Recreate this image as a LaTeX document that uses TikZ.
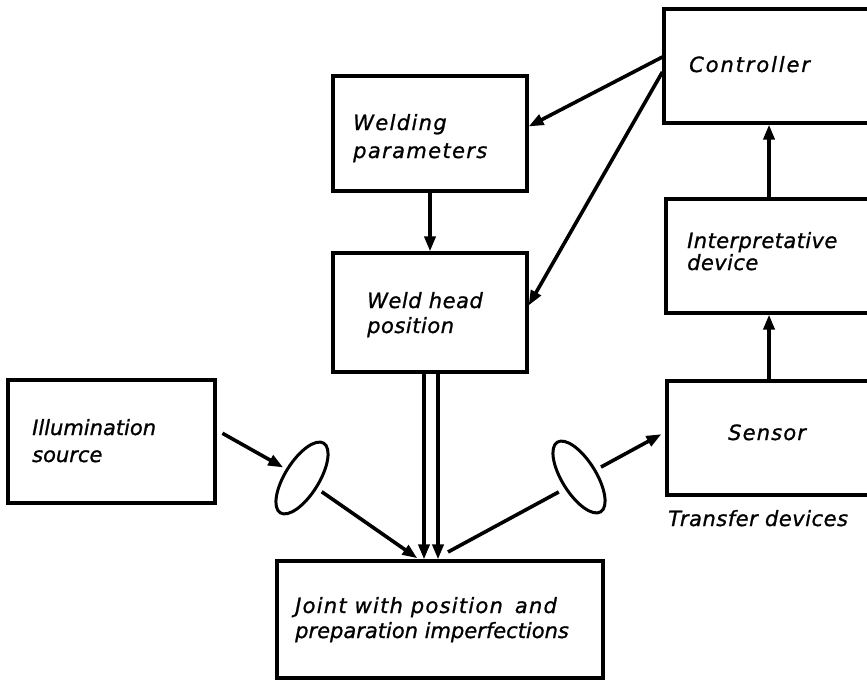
\documentclass[tikz,border=0pt]{standalone}
\usepackage{fontspec}
\setmainfont{DejaVu Sans}
\usetikzlibrary{arrows.meta,shapes.geometric,calc}
\newcommand{\lblf}[2]{\fontsize{21}{#1}\selectfont\itshape\addfontfeature{LetterSpace=#2,FakeBold=1}}
\begin{document}
\begin{tikzpicture}[x=1pt,y=-1pt,
  box/.style={draw, line width=3.2pt, rectangle, inner sep=0pt},
  lens/.style={draw, ellipse, line width=3pt, minimum width=82pt, minimum height=34pt, inner sep=0pt},
  arr/.style={line width=3.6pt, -{Triangle[length=15pt,width=11pt]}},
  ln/.style={line width=3.6pt},
  lbl/.style={anchor=base west, inner sep=0pt, align=left},
]
\clip (0,0) rectangle (867,682);
\fill[white] (0,0) rectangle (867,682);
% boxes
\node[box, minimum width=226pt, minimum height=114pt] (ctrl) at (777,66) {};
\node[box, minimum width=224pt, minimum height=114pt] (interp) at (778,256) {};
\node[box, minimum width=223pt, minimum height=114pt] (sensor) at (778.5,438) {};
\node[box, minimum width=194pt, minimum height=115pt] (wparam) at (430,133.5) {};
\node[box, minimum width=194pt, minimum height=119pt] (whead) at (430,312.5) {};
\node[box, minimum width=207pt, minimum height=123pt] (illum) at (111.5,441.5) {};
\node[box, minimum width=326pt, minimum height=117pt] (joint) at (440,619.5) {};
% lenses
\node[lens, rotate=58] (lens1) at (302,478) {};
\node[lens, rotate=-58] (lens2) at (579,477) {};
% labels (anchor = baseline of last line)
\node[lbl, font=\lblf{25}{9}] (tctrl) at (689,72) {Controller};
\node[lbl, font=\lblf{22}{2}] (tinterp) at (687,270) {Interpretative\\device};
\node[lbl, font=\lblf{25}{5.5}] (tsensor) at (728,440) {Sensor};
\node[lbl, font=\lblf{25}{2.5}] (ttrans) at (668,526) {Transfer devices};
\node[lbl, font=\lblf{28}{6.5}] (twparam) at (353,158) {Welding\\parameters};
\node[lbl, font=\lblf{25}{2.5}] (twhead) at (367,333) {Weld head\\position};
\node[lbl, font=\lblf{27}{0}] (tillum) at (32,462) {Illumination\\source};
\node[lbl, font=\lblf{25}{6}] (tjoint) at (295,638) {Joint with position\hspace{4pt} and\\{\addfontfeature{LetterSpace=0}preparation imperfections}};
% connectors
\draw[arr] ($(ctrl.west)+(0,-9)$) -- ($(wparam.east)+(0,-7)$);
\draw[arr] ($(ctrl.west)+(0,6)$) -- ($(whead.east)+(0,-7)$);
\draw[arr] ($(interp.north)+(-9,0)$) -- ($(ctrl.south)+(-8,0)$);
\draw[arr] ($(sensor.north)+(-9.5,0)$) -- ($(interp.south)+(-9,0)$);
\draw[arr] (wparam.south) -- (whead.north);
\draw[arr] ($(whead.south)+(-6,0)$) -- ($(joint.north)+(-16,0)$);
\draw[arr] ($(whead.south)+(8,0)$) -- ($(joint.north)+(-2,0)$);
\draw[arr, shorten <=6.7pt, shorten >=21.5pt] ($(illum.east)+(0,-11.5)$) -- (lens1.center);
\draw[arr, shorten <=24pt, shorten >=2pt] (lens1.center) -- ($(joint.north)+(-21,0)$);
\coordinate (jref) at (448,552);
\draw[ln, shorten >=23pt] (jref) -- ($(lens2.center)+(0,4)$);
\draw[arr, shorten <=25pt, shorten >=4.5pt] ($(lens2.center)+(0,2)$) -- ($(sensor.west)+(0,-6)$);
\end{tikzpicture}
\end{document}
